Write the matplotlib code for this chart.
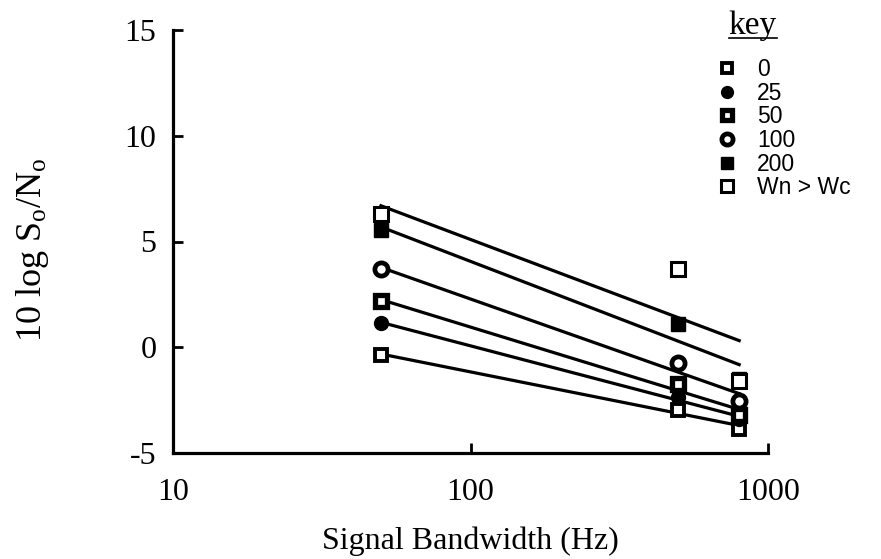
import numpy as np
import matplotlib
matplotlib.use("Agg")
import matplotlib.pyplot as plt
from matplotlib.lines import Line2D

# ---- data ----
bandwidth = [50, 500, 800]          # Hz
series_labels = ["0", "25", "50", "100", "200", "Wn > Wc"]
snr_0 = [-0.35, -2.95, -3.85]
snr_25 = [1.15, -2.35, -3.40]
snr_50 = [2.20, -1.75, -3.20]
snr_100 = [3.70, -0.75, -2.55]
snr_200 = [5.55, 1.10, -1.50]
snr_wn = [6.30, 3.70, -1.60]
xticks = [10, 100, 1000]
yticks = [-5, 0, 5, 10, 15]

plt.rcParams["font.family"] = ["Liberation Serif", "DejaVu Serif"]
plt.rcParams["mathtext.fontset"] = "custom"
plt.rcParams["mathtext.rm"] = "Liberation Serif"
plt.rcParams["mathtext.it"] = "Liberation Serif:italic"

fig = plt.figure(figsize=(8.81, 5.59), dpi=100)
ax = fig.add_axes([173/881, 1-453/559, (768-173)/881, (453-30)/559])

styles = [
    dict(marker="s", ms=9, mfc="white", mec="black", mew=2.8),
    dict(marker="o", ms=10, mfc="black", mec="black", mew=1),
    dict(marker="s", ms=9, mfc="white", mec="black", mew=3.8),
    dict(marker="o", ms=9.5, mfc="white", mec="black", mew=3.4),
    dict(marker="s", ms=9.5, mfc="black", mec="black", mew=1),
    dict(marker="s", ms=10, mfc="white", mec="black", mew=2.2),
]
all_series = [snr_0, snr_25, snr_50, snr_100, snr_200, snr_wn]

lx = np.log10(bandwidth)
handles = []
for ys in all_series:
    b, a = np.polyfit(lx, ys, 1)
    xf = np.array([bandwidth[0], bandwidth[-1]])
    ax.plot(xf, a + b*np.log10(xf), color="black", lw=2.3, zorder=2)
for ys, st, lab in zip(all_series, styles, series_labels):
    h, = ax.plot(bandwidth, ys, linestyle="none", zorder=3, label=lab, **st)
    handles.append(h)

ax.set_xscale("log")
ax.set_xlim(10, 1000)
ax.set_ylim(-5, 15)
ax.set_xticks(xticks)
ax.set_xticklabels([str(t) for t in xticks])
ax.minorticks_off()
ax.set_yticks(yticks)
ax.set_yticklabels([str(t) for t in yticks])
ax.tick_params(axis="both", direction="in", length=7, width=2, labelsize=23)
ax.tick_params(axis="y", pad=12)
ax.tick_params(axis="x", pad=18)
for s in ["top", "right"]:
    ax.spines[s].set_visible(False)
for s in ["left", "bottom"]:
    ax.spines[s].set_linewidth(2.3)

ax.set_xlabel("Signal Bandwidth (Hz)", fontsize=23, labelpad=14)
ax.set_ylabel(r"10 log S$_\mathrm{o}$/N$_\mathrm{o}$", fontsize=26)
ax.yaxis.set_label_coords(-0.205, 0.48)

leg = fig.legend(handles=handles, loc="upper left",
                 bbox_to_anchor=(717/881, 1-58/559), bbox_transform=fig.transFigure,
                 frameon=False, prop={"family": ["Liberation Sans"], "size": 16.5},
                 handlelength=0.9, handletextpad=0.85, labelspacing=0.03,
                 borderpad=0, borderaxespad=0, markerscale=0.85)

t = fig.text(753/881, 1-26/559, "key", fontsize=24, ha="center", va="center")
fig.canvas.draw()
bb = t.get_window_extent()
x0, x1 = bb.x0/fig.bbox.width, bb.x1/fig.bbox.width
yb = (bb.y0 + 3)/fig.bbox.height
fig.add_artist(Line2D([x0, x1], [yb, yb], color="black", lw=1.2, transform=fig.transFigure))

fig.savefig("out.png", dpi=100)
